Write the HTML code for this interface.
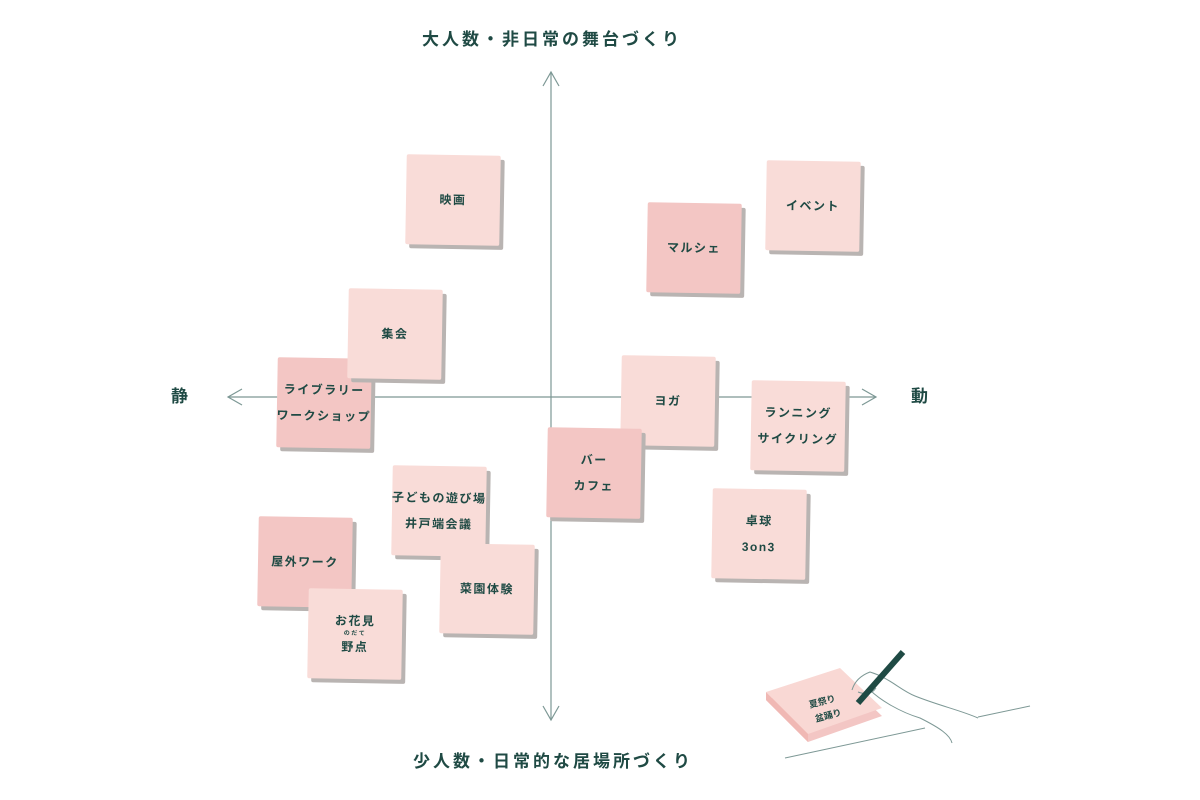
<!DOCTYPE html>
<html><head><meta charset="utf-8"><style>
body{margin:0;width:1200px;height:800px;background:#fff;position:relative;overflow:hidden;font-family:"Liberation Sans","Noto Sans CJK JP",sans-serif;color:#1f4a44}
.n{position:absolute;width:94px;height:90px;background:#f9dcd8;box-shadow:4px 4px 0 #b9b4b2;border-radius:2px;display:flex;flex-direction:column;align-items:center;justify-content:center;font-size:12px;font-weight:bold;letter-spacing:1.5px;line-height:26px;text-align:center;white-space:nowrap}
.d{background:#f3c6c4}
.lab{position:absolute;font-size:17px;font-weight:bold;letter-spacing:3px;white-space:nowrap}
</style></head><body>
<svg width="1200" height="800" style="position:absolute;left:0;top:0">
<g stroke="#7d9895" stroke-width="1.2" fill="none">
<line x1="551" y1="72" x2="551" y2="720"/>
<line x1="228" y1="397" x2="876" y2="397"/>
<polyline points="543,86 551,72 559,86"/>
<polyline points="543,706 551,720 559,706"/>
<polyline points="242,389 228,397 242,405"/>
<polyline points="862,389 876,397 862,405"/>
</g>
</svg>
<div class="lab" style="left:422px;top:25px">大人数・非日常の舞台づくり</div>
<div class="lab" style="left:413px;top:747px">少人数・日常的な居場所づくり</div>
<div class="lab" style="left:171px;top:382px">静</div>
<div class="lab" style="left:911px;top:382px">動</div>

<div class="n" style="left:406px;top:155px;transform:rotate(1deg)">映画</div>
<div class="n" style="left:766px;top:161px;transform:rotate(1deg)">イベント</div>
<div class="n d" style="left:647px;top:203px;transform:rotate(1deg)">マルシェ</div>
<div class="n d" style="left:277px;top:358px;transform:rotate(1deg)"><div>ライブラリー</div><div>ワークショップ</div></div>
<div class="n" style="left:348px;top:289px;transform:rotate(1deg)">集会</div>
<div class="n" style="left:621px;top:356px;transform:rotate(1deg)">ヨガ</div>
<div class="n" style="left:751px;top:381px;transform:rotate(1deg)"><div>ランニング</div><div>サイクリング</div></div>
<div class="n d" style="left:547px;top:428px;transform:rotate(1deg)"><div>バー</div><div>カフェ</div></div>
<div class="n" style="left:392px;top:466px;transform:rotate(1deg)"><div>子どもの遊び場</div><div>井戸端会議</div></div>
<div class="n" style="left:712px;top:489px;transform:rotate(1deg)"><div>卓球</div><div>3on3</div></div>
<div class="n d" style="left:258px;top:517px;transform:rotate(1deg)">屋外ワーク</div>
<div class="n" style="left:440px;top:544px;transform:rotate(1deg)">菜園体験</div>
<div class="n" style="left:308px;top:589px;transform:rotate(1deg);line-height:20px"><div>お花見</div><div style="font-size:6px;line-height:6px">のだて</div><div>野点</div></div>

<svg width="1200" height="800" style="position:absolute;left:0;top:0">
<polygon points="766,700 840,676 882,716 808,742" fill="#f3c6c4"/>
<polygon points="766,692 840,668 882,708 808,734" fill="#f9d8d4"/>
<polygon points="766,692 808,734 808,742 766,700" fill="#f0b8b4"/>
<g stroke="#7d9895" stroke-width="1" fill="none">
<line x1="785" y1="758" x2="925" y2="728"/>
<line x1="978" y1="717" x2="1030" y2="706"/>
<path d="M852,690 C855,680 862,675 870,672 C890,678 900,690 915,696 C940,706 960,710 978,718 M870,690 C880,700 900,712 920,718 C940,728 950,735 952,743 M858,692 C866,695 872,694 876,688"/>
</g>
<line x1="903" y1="652" x2="858" y2="703" stroke="#1f4a44" stroke-width="6"/>
<text x="810" y="708" font-size="9" font-weight="bold" fill="#1f4a44" transform="rotate(-15 810 708)" font-family="Liberation Sans,Noto Sans CJK JP,sans-serif">夏祭り</text>
<text x="816" y="722" font-size="9" font-weight="bold" fill="#1f4a44" transform="rotate(-15 816 722)" font-family="Liberation Sans,Noto Sans CJK JP,sans-serif">盆踊り</text>
</svg>
</body></html>
